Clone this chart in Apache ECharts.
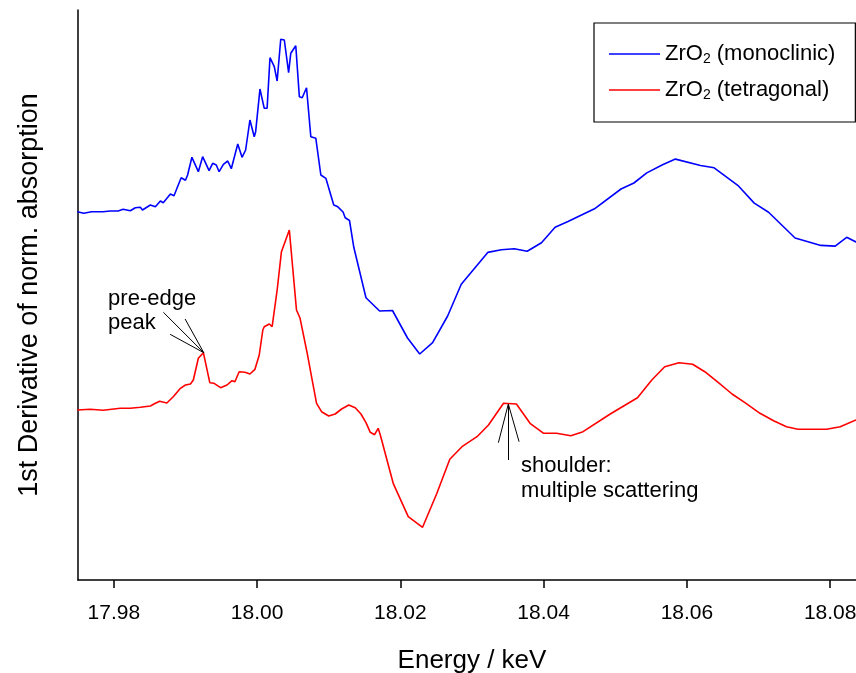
<!DOCTYPE html>
<html><head><meta charset="utf-8">
<script src="https://cdn.jsdelivr.net/npm/echarts@6/dist/echarts.min.js"></script>
<style>html,body{margin:0;padding:0;background:#fff}#c{width:856px;height:673px}</style>
</head><body><div id="c"></div>
<script>
// Tick labels on the energy axis (keV)
const xTicks = [17.98, 18.00, 18.02, 18.04, 18.06, 18.08];

// ZrO2 (monoclinic) – energy (keV) and offset 1st derivative (arb. units)
const monoEnergy = [17.9749,17.9758,17.9769,17.9785,17.9795,17.9806,17.9813,17.9823,17.9830,17.9837,17.9840,17.9851,17.9858,17.9865,17.9869,17.9879,17.9884,17.9894,17.9900,17.9903,17.9909,17.9918,17.9924,17.9933,17.9938,17.9943,17.9947,17.9953,17.9959,17.9964,17.9973,17.9979,17.9984,17.9990,17.9996,17.9998,18.0004,18.0010,18.0014,18.0018,18.0024,18.0028,18.0033,18.0038,18.0044,18.0047,18.0054,18.0059,18.0063,18.0069,18.0075,18.0082,18.0089,18.0096,18.0107,18.0112,18.0120,18.0123,18.0129,18.0135,18.0152,18.0171,18.0189,18.0210,18.0227,18.0245,18.0266,18.0285,18.0322,18.0341,18.0359,18.0377,18.0397,18.0416,18.0434,18.0471,18.0508,18.0526,18.0544,18.0566,18.0584,18.0619,18.0638,18.0671,18.0694,18.0714,18.0751,18.0787,18.0807,18.0823,18.0836,18.0850];
const monoValue  = [36.83,36.67,36.83,36.83,36.90,36.90,37.07,36.93,37.23,37.27,37.00,37.50,37.33,37.90,37.73,38.60,38.43,40.23,39.97,40.50,42.27,40.83,42.33,40.93,41.67,41.50,40.83,41.57,41.90,41.13,43.60,42.27,43.00,46.00,44.33,44.83,49.10,47.17,47.17,52.23,51.33,49.90,54.07,54.00,50.73,52.67,53.43,48.33,48.23,49.23,44.33,44.17,40.50,40.17,37.50,37.36,36.80,36.22,35.95,33.27,28.23,26.90,26.95,24.20,22.60,23.73,26.40,29.57,32.76,33.03,33.13,32.87,33.73,35.27,35.85,37.12,39.10,39.70,40.71,41.52,42.09,41.45,41.22,39.47,37.69,36.78,34.20,33.46,33.39,34.27,33.80,33.60];

// ZrO2 (tetragonal)
const tetraEnergy = [17.9749,17.9767,17.9785,17.9809,17.9823,17.9837,17.9851,17.9858,17.9864,17.9874,17.9883,17.9893,17.9900,17.9907,17.9911,17.9918,17.9925,17.9934,17.9940,17.9949,17.9958,17.9965,17.9969,17.9975,17.9983,17.9990,17.9997,18.0003,18.0008,18.0010,18.0017,18.0021,18.0028,18.0034,18.0045,18.0055,18.0060,18.0070,18.0076,18.0083,18.0090,18.0100,18.0109,18.0118,18.0128,18.0137,18.0145,18.0152,18.0158,18.0164,18.0169,18.0172,18.0190,18.0211,18.0231,18.0251,18.0269,18.0286,18.0307,18.0323,18.0344,18.0362,18.0381,18.0400,18.0418,18.0438,18.0455,18.0493,18.0531,18.0551,18.0569,18.0589,18.0608,18.0625,18.0644,18.0663,18.0681,18.0702,18.0721,18.0739,18.0755,18.0795,18.0814,18.0836,18.0850];
const tetraValue  = [17.00,17.07,16.97,17.17,17.17,17.27,17.40,17.67,17.87,17.70,18.33,19.17,19.50,19.60,20.00,22.17,22.73,19.73,19.67,19.23,19.50,19.93,19.83,20.83,20.77,20.60,21.07,22.50,25.00,25.33,25.60,25.33,29.00,32.83,35.00,27.00,26.17,22.67,20.33,17.67,16.83,16.40,16.60,17.10,17.50,17.23,16.60,15.73,14.77,14.53,15.17,14.50,9.67,6.33,5.27,8.67,12.07,13.33,14.33,15.50,17.67,17.60,15.67,14.67,14.67,14.43,14.83,16.60,18.23,20.00,21.33,21.73,21.57,20.83,19.73,18.60,17.73,16.67,15.93,15.33,15.07,15.07,15.33,16.00,16.40];

// Annotation pointer lines (from label to feature), data coords
const preEdgeTip = [17.99256, 22.73];
const preEdgeTails = [[17.98692, 26.77],[17.98995, 26.10],[17.98786, 24.57]];
const shoulderTip = [18.03507, 17.6];
const shoulderTails = [[18.03507, 12.0],[18.03368, 13.73],[18.03657, 13.83]];
const preEdgeLabelAt = [17.9792, 29.3];
const shoulderLabelAt = [18.03685, 12.7];

const FONT = '"Liberation Sans", Arial, sans-serif';
const zip = (a, b) => a.map((v, i) => [v, b[i]]);

const pointerLines = [];
preEdgeTails.forEach(t => pointerLines.push([{coord: t}, {coord: preEdgeTip}]));
shoulderTails.forEach(t => pointerLines.push([{coord: t}, {coord: shoulderTip}]));

const chart = echarts.init(document.getElementById('c'), null, {renderer: 'canvas'});
const option = {
  animation: false,
  backgroundColor: '#fff',
  grid: {left: 78, top: 10, width: 788, height: 570, containLabel: false, outerBoundsMode: 'none'},
  xAxis: {
    type: 'value', min: 17.975, max: 18.085,
    name: 'Energy / keV', nameLocation: 'middle', nameGap: 68,
    nameTextStyle: {fontFamily: FONT, fontSize: 26, color: '#000'},
    axisLine: {show: true, onZero: false, lineStyle: {color: '#000', width: 1.5}},
    axisTick: {show: true, length: 8, lineStyle: {color: '#000', width: 1.5}, customValues: xTicks},
    axisLabel: {fontFamily: FONT, fontSize: 21, color: '#000', margin: 23, customValues: xTicks,
      formatter: v => v.toFixed(2)},
    splitLine: {show: false}
  },
  yAxis: {
    type: 'value', min: 0, max: 57,
    name: '1st Derivative of norm. absorption', nameLocation: 'middle', nameGap: 35, nameRotate: 90,
    nameTextStyle: {fontFamily: FONT, fontSize: 27, color: '#000'},
    axisLine: {show: true, onZero: false, lineStyle: {color: '#000', width: 1.5}},
    axisTick: {show: false}, axisLabel: {show: false}, splitLine: {show: false}
  },
  legend: {
    orient: 'vertical', left: 594, top: 23,
    padding: [20, 20, 20, 15], itemGap: 13,
    borderColor: '#000', borderWidth: 1.2, backgroundColor: '#fff',
    icon: 'rect', itemWidth: 51, itemHeight: 1.5,
    data: ['mono', 'tetra'],
    formatter: n => n === 'mono' ? '{a|ZrO}{s|2}{a| (monoclinic)}' : '{a|ZrO}{s|2}{a| (tetragonal)}',
    textStyle: {
      fontFamily: FONT, fontSize: 22, color: '#000',
      rich: {
        a: {fontFamily: FONT, fontSize: 22, color: '#000', height: 24},
        s: {fontFamily: FONT, fontSize: 14, color: '#000', verticalAlign: 'bottom', padding: [10, 0, 0, 0]}
      }
    }
  },
  series: [
    {name: 'mono', type: 'line', data: zip(monoEnergy, monoValue), showSymbol: false,
      lineStyle: {color: '#0000ff', width: 1.6}, itemStyle: {color: '#0000ff'}, z: 3},
    {name: 'tetra', type: 'line', data: zip(tetraEnergy, tetraValue), showSymbol: false,
      lineStyle: {color: '#ff0000', width: 1.6}, itemStyle: {color: '#ff0000'}, z: 3,
      markLine: {silent: true, symbol: ['none', 'none'], label: {show: false},
        lineStyle: {color: '#000', width: 1, type: 'solid'}, data: pointerLines}}
  ]
};
chart.setOption(option);

const p1 = chart.convertToPixel({gridIndex: 0}, preEdgeLabelAt);
const p2 = chart.convertToPixel({gridIndex: 0}, shoulderLabelAt);
chart.setOption({
  graphic: [
    {type: 'text', left: p1[0], top: p1[1], z: 10,
      style: {text: 'pre-edge\npeak', font: '22px ' + FONT, fill: '#000', lineHeight: 24}},
    {type: 'text', left: p2[0], top: p2[1], z: 10,
      style: {text: 'shoulder:\nmultiple scattering', font: '22px ' + FONT, fill: '#000', lineHeight: 25}}
  ]
});
</script>
</body></html>
